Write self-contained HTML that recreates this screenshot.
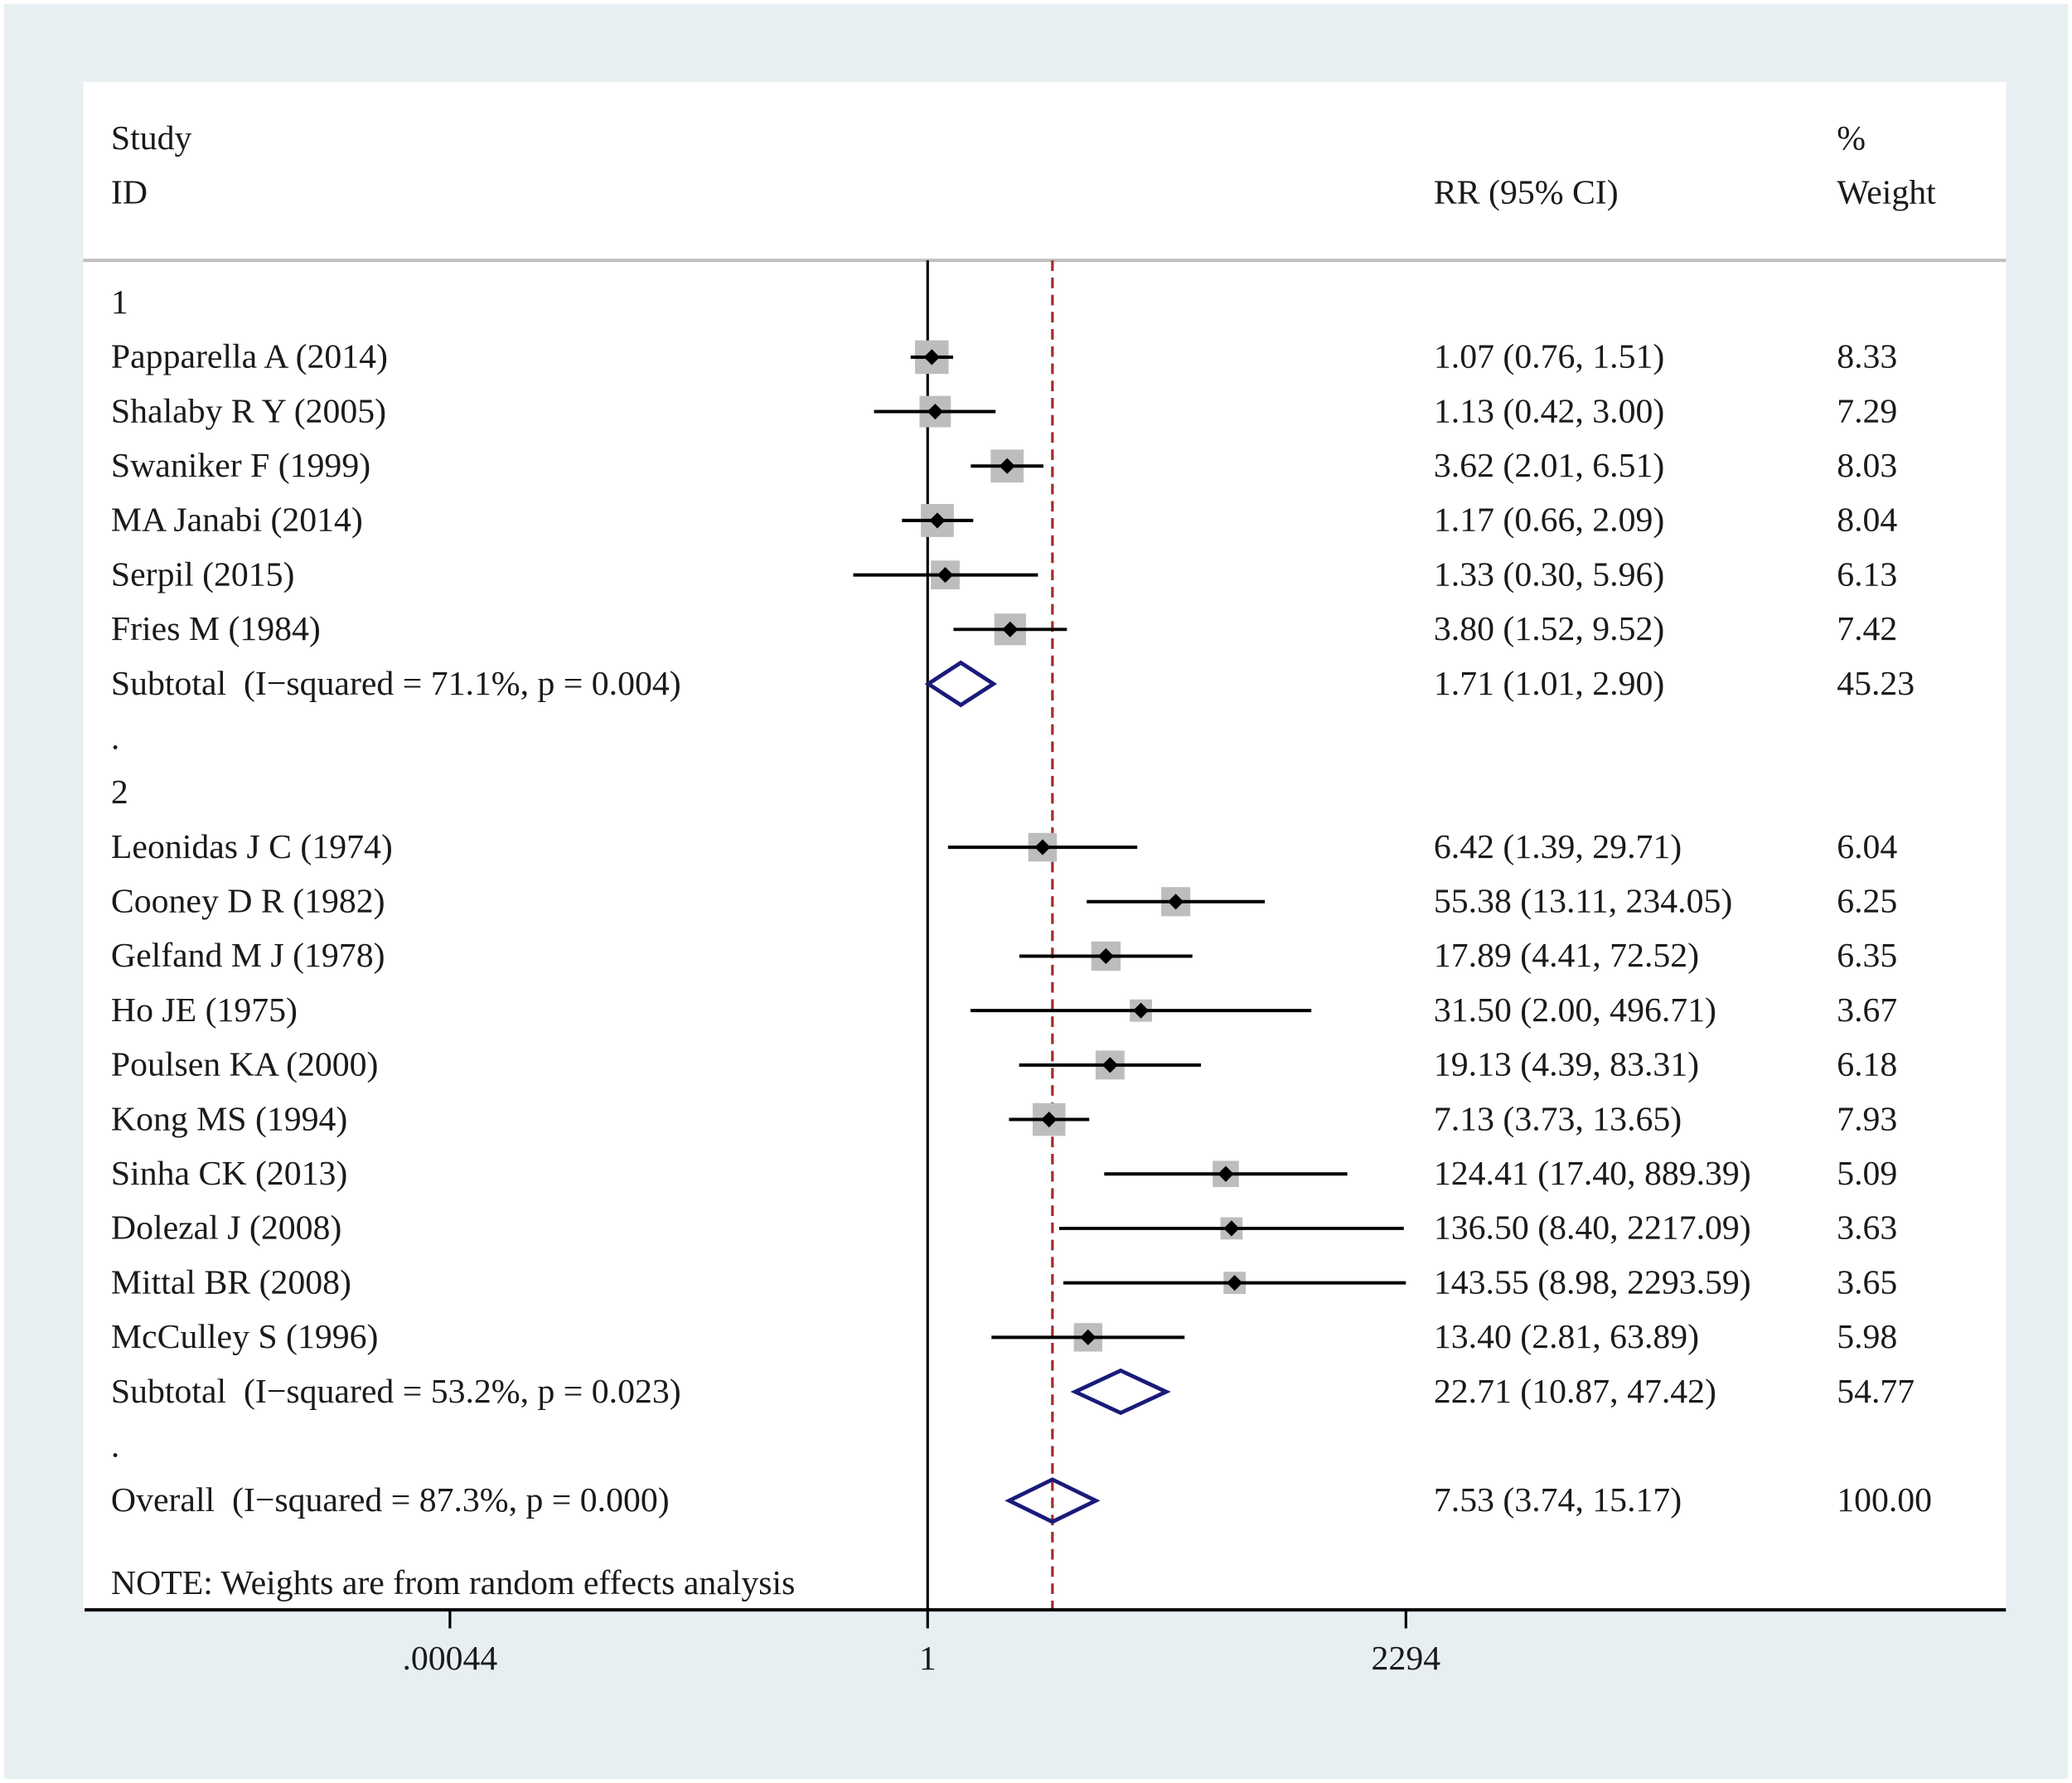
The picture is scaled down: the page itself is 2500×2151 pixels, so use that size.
<!DOCTYPE html>
<html><head><meta charset="utf-8"><style>
html,body{margin:0;padding:0;background:#fff;}
svg{display:block;}
text{font-family:"Liberation Serif","Times New Roman",serif;font-size:26.2px;fill:#1a1a1a;white-space:pre;}
</style></head><body>
<svg id="chart" width="2500" height="2151" viewBox="0 0 1568 1349" preserveAspectRatio="none" xmlns="http://www.w3.org/2000/svg" font-family="Liberation Serif, serif">
<rect x="0" y="0" width="1568" height="1349" fill="#ffffff"/>
<rect x="3" y="3" width="1562" height="1343" fill="#e8eff2"/>
<rect x="63" y="62" width="1455" height="1156" fill="#ffffff"/>
<g>
<text x="84" y="113">Study</text>
<text x="84" y="154">ID</text>
<text x="1085" y="154">RR (95% CI)</text>
<text x="1390" y="113">%</text>
<text x="1390" y="154">Weight</text>
</g>
<line x1="63" y1="197" x2="1518" y2="197" stroke="#c0c0c0" stroke-width="2.5"/>
<g id="marks"></g>
</svg>
<script>
const labels=["1","Papparella A (2014)","Shalaby R Y (2005)","Swaniker F (1999)","MA Janabi (2014)","Serpil (2015)","Fries M (1984)","Subtotal  (I\u2212squared = 71.1%, p = 0.004)",".","2","Leonidas J C (1974)","Cooney D R (1982)","Gelfand M J (1978)","Ho JE (1975)","Poulsen KA (2000)","Kong MS (1994)","Sinha CK (2013)","Dolezal J (2008)","Mittal BR (2008)","McCulley S (1996)","Subtotal  (I\u2212squared = 53.2%, p = 0.023)",".","Overall  (I\u2212squared = 87.3%, p = 0.000)"];
const kinds=["h","s","s","s","s","s","s","d","h","h","s","s","s","s","s","s","s","s","s","s","d","h","d"];
const rr=[null,1.07,1.13,3.62,1.17,1.33,3.80,1.71,null,null,6.42,55.38,17.89,31.50,19.13,7.13,124.41,136.50,143.55,13.40,22.71,null,7.53];
const lo=[null,0.76,0.42,2.01,0.66,0.30,1.52,1.01,null,null,1.39,13.11,4.41,2.00,4.39,3.73,17.40,8.40,8.98,2.81,10.87,null,3.74];
const hi=[null,1.51,3.00,6.51,2.09,5.96,9.52,2.90,null,null,29.71,234.05,72.52,496.71,83.31,13.65,889.39,2217.09,2293.59,63.89,47.42,null,15.17];
const weights=[null,8.33,7.29,8.03,8.04,6.13,7.42,45.23,null,null,6.04,6.25,6.35,3.67,6.18,7.93,5.09,3.63,3.65,5.98,54.77,null,100.00];
const tickValues=[0.00044,1,2294];
const tickLabels=[".00044","1","2294"];
const overallRR=7.53;

const NS="http://www.w3.org/2000/svg";
const g=document.getElementById('marks');
const x0=702, perDecade=107.7;
const xs=v=>x0+Math.log10(v)*perDecade;
const rowY=i=>229+i*41.2;
function el(tag,attrs,parent){const e=document.createElementNS(NS,tag);for(const k in attrs)e.setAttribute(k,attrs[k]);(parent||g).appendChild(e);return e;}
const fmt=v=>v.toFixed(2);

const nl=el('line',{x1:x0,y1:197,x2:x0,y2:1218,stroke:'#000','stroke-width':2});


const ol=el('line',{x1:xs(overallRR),y1:197,x2:xs(overallRR),y2:1218,stroke:'#a52a2a','stroke-width':2,'stroke-dasharray':'8,5'});



labels.forEach((lab,i)=>{
  const y=rowY(i);
  const t=el('text',{x:84,y:y+8});t.textContent=lab;
  
  
  if(rr[i]==null)return;
  const r=el('text',{x:1085,y:y+8});r.textContent=fmt(rr[i])+' ('+fmt(lo[i])+', '+fmt(hi[i])+')';
  
  
  const w=el('text',{x:1390,y:y+8});w.textContent=fmt(weights[i]);
  
  
  if(kinds[i]==='s'){
    const s=8.8*Math.sqrt(weights[i]);
    const sq=el('rect',{x:xs(rr[i])-s/2,y:y-s/2,width:s,height:s,fill:'#bdbdbd'});
    
    
    const ci=el('line',{x1:xs(lo[i]),y1:y,x2:xs(hi[i]),y2:y,stroke:'#000','stroke-width':2.5});
    
    
    const cx=xs(rr[i]);
    const pt=el('polygon',{points:`${cx-6},${y} ${cx},${y-6} ${cx+6},${y} ${cx},${y+6}`,fill:'#000'});
    
    
  } else {
    const a=xs(lo[i]),b=xs(hi[i]),c=xs(rr[i]);
    const d=el('polygon',{points:`${a},${y} ${c},${y-16} ${b},${y} ${c},${y+16}`,fill:'none',stroke:'#1a1a7a','stroke-width':3});
    
    
  }
});
const note=el('text',{x:84,y:1206});note.textContent='NOTE: Weights are from random effects analysis';


const ax=el('line',{x1:64,y1:1218,x2:1518,y2:1218,stroke:'#000','stroke-width':2.5});


tickValues.forEach((v,i)=>{
  const x=xs(v);
  const tk=el('line',{x1:x,y1:1218,x2:x,y2:1232,stroke:'#000','stroke-width':2});
  
  
  const tl=el('text',{x:x,y:1263,'text-anchor':'middle'});tl.textContent=tickLabels[i];
  
  
});
</script>
</body></html>
